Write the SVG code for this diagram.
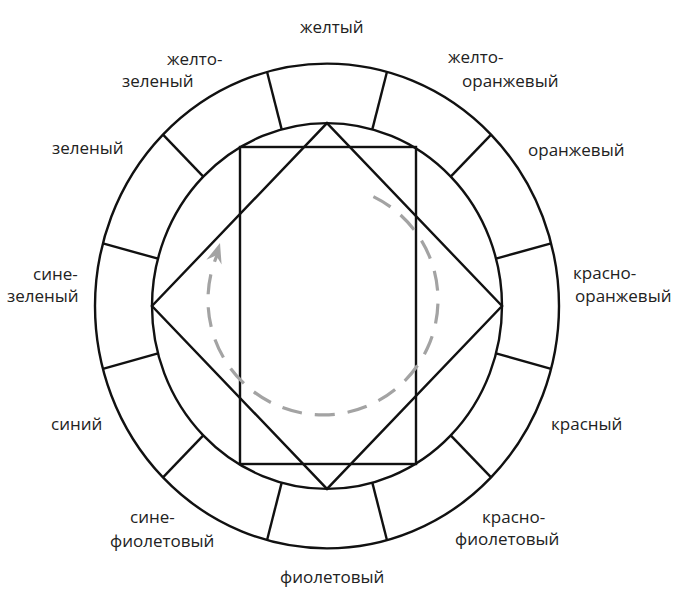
<svg xmlns="http://www.w3.org/2000/svg" width="675" height="609" viewBox="0 0 675 609">
<style>
.ln{fill:none;stroke:#111;stroke-width:2.4}
.lb{font-family:"Open Sans","Noto Sans","DejaVu Sans",sans-serif;font-size:17px;fill:#222}
.ds{fill:none;stroke:#a3a3a3;stroke-width:3.2;stroke-dasharray:20 13}
</style>
<rect width="675" height="609" fill="#fff"/>
<g id="wheel">
<ellipse class="ln" cx="327" cy="306" rx="232" ry="242.4"/>
<ellipse class="ln" cx="327" cy="306" rx="175" ry="182.9"/>
</g>
<g id="dividers">
<line class="ln" x1="387" y1="71.8" x2="372.3" y2="129.4"/>
<line class="ln" x1="491.1" y1="134.6" x2="450.7" y2="176.7"/>
<line class="ln" x1="551.1" y1="243.3" x2="496" y2="258.7"/>
<line class="ln" x1="551.1" y1="368.8" x2="496" y2="353.3"/>
<line class="ln" x1="491.1" y1="477.4" x2="450.7" y2="435.3"/>
<line class="ln" x1="387" y1="540.2" x2="372.3" y2="482.6"/>
<line class="ln" x1="267" y1="540.2" x2="281.7" y2="482.6"/>
<line class="ln" x1="163" y1="477.4" x2="203.3" y2="435.3"/>
<line class="ln" x1="102.9" y1="368.8" x2="158" y2="353.3"/>
<line class="ln" x1="102.9" y1="243.3" x2="158" y2="258.7"/>
<line class="ln" x1="163" y1="134.6" x2="203.3" y2="176.7"/>
<line class="ln" x1="267" y1="71.8" x2="281.7" y2="129.4"/>
</g>
<g id="rectangle">
<rect class="ln" x="240" y="147" width="176" height="317"/>
</g>
<g id="diamond">
<polygon class="ln" points="327,123.1 502,306 327,488.9 152,306"/>
</g>
<g id="connectors">
<path class="ds" d="M373.4,196.6 A115,115 0 1 1 217.1,255.1"/>
<polygon fill="#a3a3a3" points="220,243 221.6,264.5 216.1,255.4 206.4,259.7"/>
</g>
<g id="labels">
<text class="lb" x="300" y="33">желтый</text>
<text class="lb" x="167" y="65">желто-</text>
<text class="lb" x="122" y="87">зеленый</text>
<text class="lb" x="448" y="63">желто-</text>
<text class="lb" x="462" y="87">оранжевый</text>
<text class="lb" x="52" y="154">зеленый</text>
<text class="lb" x="528" y="156">оранжевый</text>
<text class="lb" x="33" y="280">сине-</text>
<text class="lb" x="7" y="302">зеленый</text>
<text class="lb" x="573" y="279">красно-</text>
<text class="lb" x="575" y="302">оранжевый</text>
<text class="lb" x="51" y="430">синий</text>
<text class="lb" x="551" y="430">красный</text>
<text class="lb" x="130" y="523">сине-</text>
<text class="lb" x="110" y="547">фиолетовый</text>
<text class="lb" x="482" y="523">красно-</text>
<text class="lb" x="455" y="545">фиолетовый</text>
<text class="lb" x="280" y="583">фиолетовый</text>
</g>
</svg>
